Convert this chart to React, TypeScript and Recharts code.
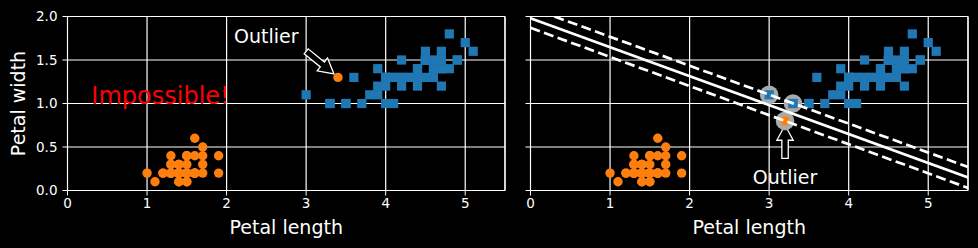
import {
  ScatterChart,
  Scatter,
  XAxis,
  YAxis,
  CartesianGrid,
  ReferenceLine,
} from "recharts";

// iris setosa (class 0)
const setosaLength = [
  1.4, 1.4, 1.3, 1.5, 1.4, 1.7, 1.4, 1.5, 1.4, 1.5, 1.5, 1.6, 1.4, 1.1, 1.2,
  1.5, 1.3, 1.4, 1.7, 1.5, 1.7, 1.5, 1.0, 1.7, 1.9, 1.6, 1.6, 1.5, 1.4, 1.6,
  1.6, 1.5, 1.5, 1.4, 1.5, 1.2, 1.3, 1.4, 1.3, 1.5, 1.3, 1.3, 1.3, 1.6, 1.9,
  1.4, 1.6, 1.4, 1.5, 1.4,
];
const setosaWidth = [
  0.2, 0.2, 0.2, 0.2, 0.2, 0.4, 0.3, 0.2, 0.2, 0.1, 0.2, 0.2, 0.1, 0.1, 0.2,
  0.4, 0.4, 0.3, 0.3, 0.3, 0.2, 0.4, 0.2, 0.5, 0.2, 0.2, 0.4, 0.2, 0.2, 0.2,
  0.2, 0.4, 0.1, 0.2, 0.2, 0.2, 0.2, 0.1, 0.2, 0.2, 0.3, 0.3, 0.2, 0.6, 0.4,
  0.3, 0.2, 0.2, 0.2, 0.2,
];

// iris versicolor (class 1)
const versicolorLength = [
  4.7, 4.5, 4.9, 4.0, 4.6, 4.5, 4.7, 3.3, 4.6, 3.9, 3.5, 4.2, 4.0, 4.7, 3.6,
  4.4, 4.5, 4.1, 4.5, 3.9, 4.8, 4.0, 4.9, 4.7, 4.3, 4.4, 4.8, 5.0, 4.5, 3.5,
  3.8, 3.7, 3.9, 5.1, 4.5, 4.5, 4.7, 4.4, 4.1, 4.0, 4.4, 4.6, 4.0, 3.3, 4.2,
  4.2, 4.2, 4.3, 3.0, 4.1,
];
const versicolorWidth = [
  1.4, 1.5, 1.5, 1.3, 1.5, 1.3, 1.6, 1.0, 1.3, 1.4, 1.0, 1.5, 1.0, 1.4, 1.3,
  1.4, 1.5, 1.0, 1.5, 1.1, 1.8, 1.3, 1.5, 1.2, 1.3, 1.4, 1.4, 1.7, 1.5, 1.0,
  1.1, 1.0, 1.2, 1.6, 1.5, 1.6, 1.5, 1.3, 1.3, 1.3, 1.2, 1.4, 1.2, 1.0, 1.3,
  1.2, 1.3, 1.3, 1.1, 1.3,
];

const outlierLeft = [3.4, 1.3];
const outlierRight = [3.2, 0.8];

// right panel decision boundary and gutters (end points)
const boundaryX = [0, 5.5];
const boundaryY = [1.98, 0.15];
const gutterUpX = [0.3, 5.5];
const gutterUpY = [2.0, 0.27];
const gutterDownX = [0, 5.5];
const gutterDownY = [1.87, 0.03];

const supportX = [3.0, 3.3, 3.2];
const supportY = [1.1, 1.0, 0.8];

const xTicks = [0, 1, 2, 3, 4, 5];
const yTicks = [0, 0.5, 1.0, 1.5, 2.0];

const BLUE = "#1f77b4";
const ORANGE = "#ff7f0e";
const FONT = "DejaVu Sans, sans-serif";

const zip = (xs: number[], ys: number[]) => xs.map((x, i) => ({ x, y: ys[i] }));

const versicolor = zip(versicolorLength, versicolorWidth);
const setosaLeft = [...zip(setosaLength, setosaWidth), { x: outlierLeft[0], y: outlierLeft[1] }];
const setosaRight = [...zip(setosaLength, setosaWidth), { x: outlierRight[0], y: outlierRight[1] }];

const square = (props: any) => (
  <rect x={props.cx - 4.6} y={props.cy - 4.6} width={9.2} height={9.2} fill={BLUE} />
);
const dot = (props: any) => <circle cx={props.cx} cy={props.cy} r={4.7} fill={ORANGE} />;
const svDot = (props: any) => <circle cx={props.cx} cy={props.cy} r={9.3} fill="#aaaaaa" />;
const noShape = () => <g />;

const textShape = (size: number, color: string, anchor: string) => (props: any) => (
  <text
    x={props.cx}
    y={props.cy}
    fill={color}
    fontSize={size}
    textAnchor={anchor}
    fontFamily={FONT}
  >
    {props.payload.label}
  </text>
);

const arrowShape = (props: any) => {
  const { x1, y1, x2, y2 } = props;
  const dx = x2 - x1;
  const dy = y2 - y1;
  const len = Math.hypot(dx, dy) || 1;
  const ux = dx / len;
  const uy = dy / len;
  const nx = -uy;
  const ny = ux;
  const w = 3.2;
  const hw = 8.2;
  const hl = 15;
  const bx = x2 - ux * hl;
  const by = y2 - uy * hl;
  const pts = [
    [x1 + nx * w, y1 + ny * w],
    [bx + nx * w, by + ny * w],
    [bx + nx * hw, by + ny * hw],
    [x2, y2],
    [bx - nx * hw, by - ny * hw],
    [bx - nx * w, by - ny * w],
    [x1 - nx * w, y1 - ny * w],
  ];
  return (
    <polygon
      points={pts.map((p) => p.join(",")).join(" ")}
      fill="#000"
      stroke="#fff"
      strokeWidth={1.3}
    />
  );
};

const tickStyle = { fill: "#fff", fontSize: 13.5, fontFamily: FONT };
const labelStyle = { fill: "#fff", fontSize: 19, fontFamily: FONT };

export default function App() {
  return (
    <div
      style={{
        position: "absolute",
        left: 0,
        top: 0,
        width: 978,
        height: 248,
        background: "#000",
        fontFamily: FONT,
      }}
    >
      <div style={{ position: "absolute", left: 0, top: 0 }}>
        <ScatterChart width={510} height={248} margin={{ top: 16.5, right: 5, bottom: 0, left: 0.5 }}>
          <CartesianGrid stroke="#fff" strokeWidth={1.2} />
          <XAxis
            type="number"
            dataKey="x"
            domain={[0, 5.5]}
            ticks={xTicks}
            allowDataOverflow
            height={57.5}
            tickSize={5}
            tickMargin={3}
            stroke="#fff"
            tick={tickStyle}
            label={{ value: "Petal length", position: "insideBottom", offset: 14, ...labelStyle }}
          />
          <YAxis
            type="number"
            dataKey="y"
            domain={[0, 2]}
            ticks={yTicks}
            allowDataOverflow
            width={67}
            tickSize={5}
            tickMargin={5}
            stroke="#fff"
            tick={tickStyle}
            tickFormatter={(v: number) => v.toFixed(1)}
            label={{
              value: "Petal width",
              angle: -90,
              position: "insideLeft",
              offset: 18,
              ...labelStyle,
              style: { textAnchor: "middle" },
            }}
          />
          <ReferenceLine x={5.5} stroke="#fff" strokeWidth={1.2} />
          <ReferenceLine y={2} stroke="#fff" strokeWidth={1.2} />
          <Scatter data={versicolor} shape={square} isAnimationActive={false} />
          <Scatter data={setosaLeft} shape={dot} isAnimationActive={false} />
          <Scatter
            data={[{ x: 0.3, y: 1.0, label: "Impossible!" }]}
            shape={textShape(24, "#ff0000", "start")}
            isAnimationActive={false}
          />
          <Scatter
            data={[{ x: 2.5, y: 1.7, label: "Outlier" }]}
            shape={textShape(19, "#fff", "middle")}
            isAnimationActive={false}
          />
          <ReferenceLine
            segment={[
              { x: 3.0, y: 1.6 },
              { x: 3.35, y: 1.34 },
            ]}
            shape={arrowShape}
          />
        </ScatterChart>
      </div>
      <div style={{ position: "absolute", left: 510, top: 0 }}>
        <ScatterChart width={468} height={248} margin={{ top: 16.5, right: 10, bottom: 0, left: 0.5 }}>
          <CartesianGrid stroke="#fff" strokeWidth={1.2} />
          <XAxis
            type="number"
            dataKey="x"
            domain={[0, 5.5]}
            ticks={xTicks}
            allowDataOverflow
            height={57.5}
            tickSize={5}
            tickMargin={3}
            stroke="#fff"
            tick={tickStyle}
            label={{ value: "Petal length", position: "insideBottom", offset: 14, ...labelStyle }}
          />
          <YAxis
            type="number"
            dataKey="y"
            domain={[0, 2]}
            ticks={yTicks}
            allowDataOverflow
            width={20}
            tickSize={5}
            tickMargin={5}
            stroke="#fff"
            tick={tickStyle}
            tickFormatter={() => ""}
          />
          <ReferenceLine x={5.5} stroke="#fff" strokeWidth={1.2} />
          <ReferenceLine y={2} stroke="#fff" strokeWidth={1.2} />
          <Scatter data={zip(supportX, supportY)} shape={svDot} isAnimationActive={false} />
          <Scatter data={versicolor} shape={square} isAnimationActive={false} />
          <Scatter data={setosaRight} shape={dot} isAnimationActive={false} />
          <Scatter
            data={zip(boundaryX, boundaryY)}
            fill="#fff"
            line={{ stroke: "#fff", strokeWidth: 2.7 }}
            shape={noShape}
            isAnimationActive={false}
          />
          <Scatter
            data={zip(gutterUpX, gutterUpY)}
            fill="#fff"
            line={{ stroke: "#fff", strokeWidth: 2.7, strokeDasharray: "10 4.4" }}
            shape={noShape}
            isAnimationActive={false}
          />
          <Scatter
            data={zip(gutterDownX, gutterDownY)}
            fill="#fff"
            line={{ stroke: "#fff", strokeWidth: 2.7, strokeDasharray: "10 4.4" }}
            shape={noShape}
            isAnimationActive={false}
          />
          <Scatter
            data={[{ x: 3.2, y: 0.08, label: "Outlier" }]}
            shape={textShape(19, "#fff", "middle")}
            isAnimationActive={false}
          />
          <ReferenceLine
            segment={[
              { x: 3.2, y: 0.37 },
              { x: 3.2, y: 0.75 },
            ]}
            shape={arrowShape}
          />
        </ScatterChart>
      </div>
    </div>
  );
}
